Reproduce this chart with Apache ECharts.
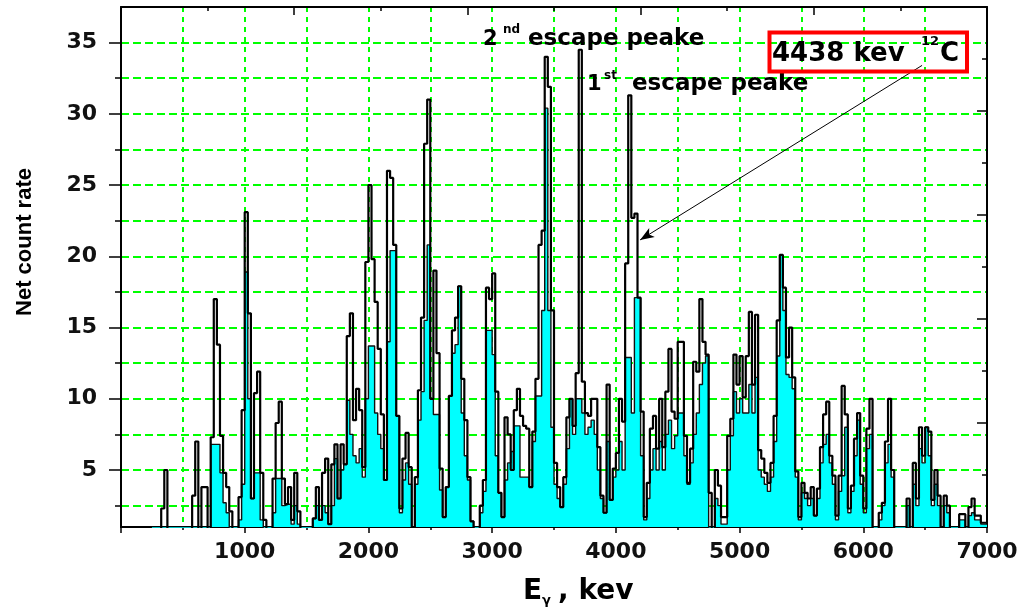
<!DOCTYPE html>
<html>
<head>
<meta charset="utf-8">
<script src="https://cdn.jsdelivr.net/npm/echarts@6/dist/echarts.min.js"></script>
<style>
  html, body { margin: 0; padding: 0; background: #ffffff; }
  #chart { width: 1021px; height: 609px; }
</style>
</head>
<body>
<div id="chart"></div>
<script>
// Gamma spectrum, 25 keV bins starting at 250 keV
const binStart = 250;
const binWidth = 25;

// Upper (black) trace of the net count rate per bin
const upperTrace = [
  // 250 - 475
  0, 0, 0, 2.3, 5.0, 0, 0, 0, 0, 0,
  // 500 - 975
  0, 0, 0, 3.2, 7.0, 0, 3.8, 3.8, 0, 7.3, 17.0, 13.8, 7.4, 4.8, 3.8, 2.1, 0, 0, 3.1, 9.2,
  // 1000 - 1475
  23.1, 16.0, 3.0, 10.4, 11.9, 4.8, 1.5, 0, 0, 4.4, 8.3, 9.8, 4.4, 2.6, 3.8, 1.5, 4.8, 2.1, 0, 0,
  // 1500 - 1975
  0, 0, 1.6, 3.8, 1.5, 4.8, 5.8, 1.2, 5.4, 6.8, 3.0, 6.8, 5.4, 14.4, 16.0, 8.5, 10.7, 9.2, 5.2, 19.6,
  // 2000 - 2475
  25.0, 19.8, 16.8, 13.5, 8.9, 4.3, 26.0, 25.5, 20.8, 8.8, 2.3, 5.8, 7.6, 5.2, 1.0, 4.5, 10.6, 15.7, 27.9, 31.0,
  // 2500 - 2975
  10.0, 19.0, 13.2, 5.1, 1.7, 3.8, 10.2, 14.8, 15.7, 17.9, 11.4, 8.5, 4.5, 1.4, 0, 0, 2.5, 4.3, 17.8, 17.0,
  // 3000 - 3475
  18.8, 10.5, 3.4, 1.7, 8.7, 7.5, 5.0, 9.2, 10.7, 8.8, 8.1, 7.9, 3.8, 7.7, 11.4, 20.8, 21.8, 34.0, 31.9, 16.2,
  // 3500 - 3975
  5.5, 3.8, 2.4, 4.5, 8.7, 10.0, 8.1, 11.8, 34.5, 11.2, 9.0, 8.8, 10.0, 10.0, 6.6, 3.2, 2.0, 11.0, 2.9, 5.1,
  // 4000 - 4475
  6.2, 10.0, 8.4, 19.5, 31.3, 22.7, 23.0, 17.1, 9.1, 1.7, 4.1, 7.9, 8.8, 6.5, 10.0, 6.6, 10.5, 13.5, 9.1, 8.6,
  // 4500 - 4975
  14.0, 14.0, 7.4, 4.1, 6.5, 12.6, 11.9, 17.0, 14.0, 13.1, 3.4, 0.8, 5.0, 3.9, 1.7, 1.7, 7.4, 8.6, 13.1, 11.0,
  // 5000 - 5475
  13.0, 10.1, 13.0, 16.1, 11.0, 15.9, 6.4, 5.8, 4.8, 4.1, 5.5, 8.8, 15.5, 20.1, 17.8, 12.9, 15.0, 11.5, 4.9, 1.7,
  // 5500 - 5975
  4.1, 3.4, 3.0, 3.8, 1.8, 3.7, 6.6, 8.9, 9.8, 6.0, 4.6, 1.8, 4.6, 10.9, 8.9, 2.3, 3.9, 7.2, 9.0, 4.6,
  // 6000 - 6475
  2.3, 7.9, 10.0, 0.8, 0.8, 2.0, 2.7, 7.0, 10.0, 5.0, 0, 0, 0, 0, 3.0, 0.8, 5.5, 3.0, 8.0, 6.0,
  // 6500 - 6975
  8.0, 7.7, 2.9, 5.0, 3.2, 1.0, 3.2, 2.5, 0.8, 0, 0, 1.9, 1.9, 0.8, 2.4, 3.0, 1.8, 1.8, 1.3, 1.3
];

// Filled (cyan) net count rate per bin
const netRate = [
  // 250 - 475
  0, 0, 0, 0, 0, 0, 0, 0, 0, 0,
  // 500 - 975
  0, 0, 0, 0, 0, 0, 0, 0, 0, 6.8, 6.8, 6.8, 4.8, 2.7, 2.0, 0, 0, 0, 1.5, 4.0,
  // 1000 - 1475
  18.9, 10.0, 3.0, 4.8, 4.8, 1.5, 0, 0, 0, 2.0, 4.4, 4.4, 2.5, 2.6, 2.6, 1.2, 2.5, 1.2, 0, 0,
  // 1500 - 1975
  0, 0, 1.6, 2.5, 1.5, 2.5, 2.0, 1.2, 2.5, 5.8, 3.0, 5.0, 5.4, 9.9, 7.5, 6.0, 5.5, 6.5, 4.5, 10.0,
  // 2000 - 2475
  13.7, 13.7, 9.0, 7.5, 6.5, 4.3, 14.0, 20.4, 20.4, 8.8, 2.0, 4.3, 5.5, 4.0, 1.0, 4.0, 8.5, 10.5, 15.5, 20.8,
  // 2500 - 2975
  10.0, 8.9, 8.9, 3.6, 1.7, 3.8, 10.2, 13.2, 13.8, 17.9, 9.0, 6.0, 4.3, 1.4, 0, 0, 2.0, 3.5, 14.8, 14.8,
  // 3000 - 3475
  13.1, 6.0, 3.4, 1.7, 4.3, 5.5, 6.3, 8.1, 8.1, 4.5, 4.5, 4.5, 3.8, 7.0, 10.2, 10.2, 16.2, 30.4, 16.2, 8.0,
  // 3500 - 3975
  4.0, 3.0, 2.4, 4.0, 6.5, 10.0, 7.5, 10.0, 10.0, 9.0, 7.5, 8.0, 8.5, 7.5, 5.0, 3.0, 2.0, 7.0, 2.9, 4.5,
  // 4000 - 4475
  5.0, 7.0, 5.0, 12.9, 12.9, 9.0, 17.1, 17.1, 6.0, 1.5, 3.0, 5.0, 6.5, 5.0, 7.0, 5.0, 7.5, 8.5, 6.5, 7.4,
  // 4500 - 4975
  9.0, 9.0, 6.0, 4.0, 5.5, 7.5, 9.0, 11.0, 12.5, 13.0, 0, 0, 3.0, 2.5, 1.2, 1.2, 5.0, 7.4, 10.5, 9.0,
  // 5000 - 5475
  10.0, 9.0, 9.0, 11.0, 9.0, 11.5, 5.0, 4.5, 4.0, 3.5, 4.5, 7.0, 13.0, 20.1, 16.2, 11.7, 11.5, 10.7, 4.5, 1.5,
  // 5500 - 5975
  3.4, 3.0, 2.5, 3.0, 1.8, 3.0, 5.5, 6.8, 7.5, 5.5, 4.0, 1.5, 3.5, 4.6, 8.0, 2.0, 3.5, 6.0, 8.5, 4.0,
  // 6000 - 6475
  2.0, 6.5, 7.5, 0.8, 0.8, 1.5, 2.5, 5.5, 6.8, 4.5, 0, 0, 0, 0, 2.5, 0.8, 4.0, 2.5, 6.5, 5.5,
  // 6500 - 6975
  8.0, 6.0, 2.5, 4.0, 2.5, 1.0, 2.5, 2.0, 0.8, 0, 0, 1.5, 1.5, 0.8, 1.8, 2.0, 1.5, 1.5, 1.2, 1.2
];

// Tick labels
const energyTicks = [1000, 2000, 3000, 4000, 5000, 6000, 7000];
const rateTicks = [5, 10, 15, 20, 25, 30, 35];
const rateHalfTicks = [2.5, 7.5, 12.5, 17.5, 22.5, 27.5, 32.5];

// Arrow pointing from the 12C label to the 4438 keV line (energy, rate)
const arrowFrom = [6475, 33.4];
const arrowTo = [4196, 21.15];

// Turn bin values into step points: bin left edges plus the closing edge
function toSteps(values) {
  const pts = values.map((v, i) => [binStart + i * binWidth, v]);
  pts.push([binStart + values.length * binWidth, values[values.length - 1]]);
  return pts;
}

const GREEN = '#00ff00';
const tickFont = { fontFamily: 'DejaVu Sans', fontWeight: 'bold', fontSize: 22, color: '#111111' };
const frame = { show: true, onZero: false, lineStyle: { color: '#000000', width: 2 } };

function txt(x, y, text, font, extra) {
  return Object.assign({
    type: 'text', x: x, y: y, z: 100,
    style: {
      text: text, font: font, fill: '#000000',
      align: 'left', verticalAlign: 'middle',
      textAlign: 'left', textVerticalAlign: 'middle'
    }
  }, extra || {});
}

const chart = echarts.init(document.getElementById('chart'), null, { renderer: 'canvas' });

chart.setOption({
  animation: false,
  backgroundColor: '#ffffff',
  grid: { left: 121, right: 34, top: 7, bottom: 82, containLabel: false },
  xAxis: [
    {
      type: 'value', position: 'bottom', min: 0, max: 7000, interval: 1000,
      axisLine: frame,
      axisTick: { show: true, length: 6, lineStyle: { color: '#000', width: 1.5 } },
      minorTick: { show: true, splitNumber: 2, length: 3, lineStyle: { color: '#000', width: 1.5 } },
      splitLine: { show: true, lineStyle: { color: GREEN, width: 2, type: [5, 5] } },
      minorSplitLine: { show: true, lineStyle: { color: GREEN, width: 2, type: [5, 5] } },
      axisLabel: Object.assign({ customValues: energyTicks, margin: 14, formatter: v => String(v) }, tickFont)
    },
    {
      type: 'value', position: 'top', min: 0, max: 10, interval: 2,
      axisLine: frame,
      axisTick: { show: true, inside: true, length: 8, lineStyle: { color: '#000', width: 1.5 } },
      minorTick: { show: true, splitNumber: 2, length: 4, lineStyle: { color: '#000', width: 1.5 } },
      splitLine: { show: false },
      axisLabel: { show: false }
    }
  ],
  yAxis: [
    {
      type: 'value', position: 'left', min: 1, max: 37.5,
      axisLine: frame,
      axisTick: { show: true, customValues: rateTicks, length: 12, lineStyle: { color: '#000', width: 1.5 } },
      splitLine: { show: true, lineStyle: { color: GREEN, width: 2, type: [8, 4] } },
      axisLabel: Object.assign({ customValues: rateTicks, margin: 24, formatter: v => String(v) }, tickFont)
    },
    {
      type: 'value', position: 'right', min: 0, max: 10, interval: 2,
      axisLine: frame,
      axisTick: { show: true, inside: true, length: 10, lineStyle: { color: '#000', width: 1.5 } },
      minorTick: { show: true, splitNumber: 2, length: 5, lineStyle: { color: '#000', width: 1.5 } },
      splitLine: { show: false },
      axisLabel: { show: false }
    },
    {
      type: 'value', position: 'left', min: 1, max: 37.5,
      axisLine: { show: false, onZero: false },
      axisTick: { show: true, customValues: rateHalfTicks, length: 6, lineStyle: { color: '#000', width: 1.5 } },
      splitLine: { show: true, lineStyle: { color: GREEN, width: 2, type: [8, 4] } },
      axisLabel: { show: false }
    }
  ],
  series: [
    {
      name: 'net', type: 'line', xAxisIndex: 0, yAxisIndex: 0,
      step: 'end', symbol: 'none', clip: true, z: 3,
      lineStyle: { color: '#111111', width: 1.4 },
      areaStyle: { color: '#00ffff', opacity: 1, origin: 'start' },
      data: toSteps(netRate)
    },
    {
      name: 'upper', type: 'line', xAxisIndex: 0, yAxisIndex: 0,
      step: 'end', symbol: 'none', clip: true, z: 4,
      lineStyle: { color: '#000000', width: 2.2 },
      markLine: {
        silent: true, symbol: ['none', 'arrow'], symbolSize: [8, 14],
        lineStyle: { color: '#000000', width: 1, type: 'solid' },
        label: { show: false },
        data: [[{ coord: arrowFrom }, { coord: arrowTo }]]
      },
      data: toSteps(upperTrace)
    }
  ],
  graphic: [
    // axis titles
    txt(25, 242, 'Net count rate', 'bold 22px "Liberation Sans"', { rotation: Math.PI / 2,
      style: { text: 'Net count rate', font: 'bold 22px "Liberation Sans"', fill: '#000',
        align: 'center', verticalAlign: 'middle', textAlign: 'center', textVerticalAlign: 'middle' } }),
    txt(523, 592, 'E', 'bold 28px "DejaVu Sans"'),
    txt(542, 601, 'γ', 'bold 13px "DejaVu Sans"'),
    txt(558, 592, ', kev', 'bold 28px "DejaVu Sans"'),
    // escape peak labels
    txt(483, 40, '2', 'bold 21px "DejaVu Sans"'),
    txt(503, 30, 'nd', 'bold 12px "DejaVu Sans"'),
    txt(528, 39, 'escape peake', 'bold 23px "DejaVu Sans"'),
    txt(587, 85, '1', 'bold 21px "DejaVu Sans"'),
    txt(604, 76, 'st', 'bold 12px "DejaVu Sans"'),
    txt(632, 84, 'escape peake', 'bold 23px "DejaVu Sans"'),
    // boxed line label
    {
      type: 'rect', z: 100,
      shape: { x: 769.5, y: 32.5, width: 197.5, height: 39 },
      style: { fill: 'none', stroke: '#ff0000', lineWidth: 4 }
    },
    txt(772, 54, '4438 kev', 'bold 26px "DejaVu Sans"'),
    txt(921, 42, '12', 'bold 13px "DejaVu Sans"'),
    txt(940, 54, 'C', 'bold 26px "DejaVu Sans"')
  ]
});
</script>
</body>
</html>
